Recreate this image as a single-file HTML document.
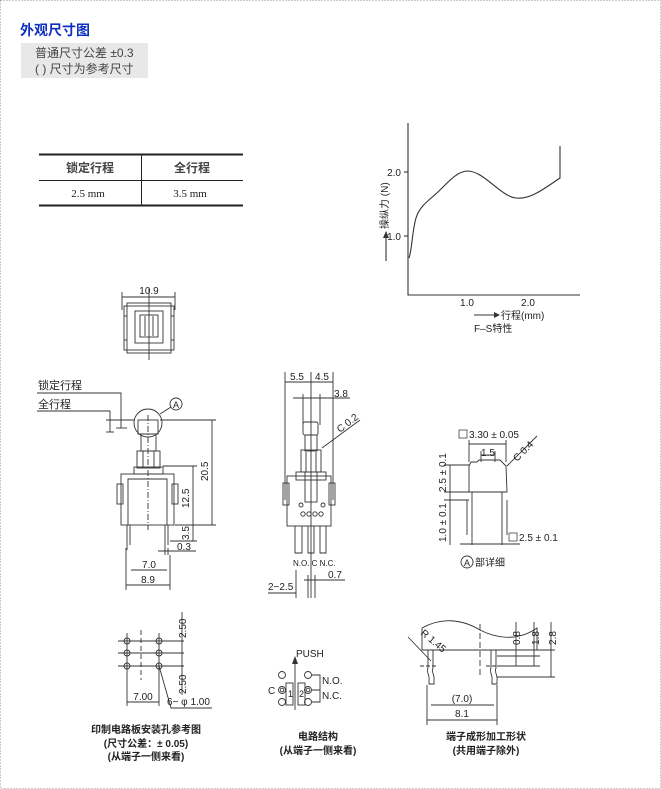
<!DOCTYPE html>
<html><head><meta charset="utf-8"><style>
html,body{margin:0;padding:0;background:#fff}
svg{display:block}
text{font-family:"Liberation Sans","Noto Sans CJK SC",sans-serif;fill:#222}
</style></head><body>
<svg width="661" height="789" viewBox="0 0 661 789" xmlns="http://www.w3.org/2000/svg">
<rect x="0.5" y="0.5" width="660" height="788" fill="#fff" stroke="#999" stroke-dasharray="1,2"/>
<text x="20" y="35" font-size="14" font-weight="bold" style="fill:#1030c0">外观尺寸图</text>
<rect x="21" y="43" width="127" height="35" fill="#e8e8e8"/>
<text x="35" y="57" font-size="12" style="fill:#444">普通尺寸公差 ±0.3</text>
<text x="35" y="73" font-size="12" style="fill:#444">( ) 尺寸为参考尺寸</text>

<g stroke="#222" fill="none">
<line x1="39" y1="154.5" x2="243" y2="154.5" stroke-width="2"/>
<line x1="39" y1="180.5" x2="243" y2="180.5"/>
<line x1="39" y1="205.5" x2="243" y2="205.5" stroke-width="2"/>
<line x1="141.5" y1="154" x2="141.5" y2="206"/>
</g>
<text x="90" y="172" font-size="12" font-weight="bold" text-anchor="middle" style="fill:#444">锁定行程</text>
<text x="192" y="172" font-size="12" font-weight="bold" text-anchor="middle" style="fill:#444">全行程</text>
<text x="88" y="197" font-size="11" text-anchor="middle" style="font-family:'Liberation Serif',serif">2.5 mm</text>
<text x="190" y="197" font-size="11" text-anchor="middle" style="font-family:'Liberation Serif',serif">3.5 mm</text>

<g stroke="#333" fill="none" stroke-width="1.1">
<polyline points="408,123 408,295 580,295"/>
<line x1="404" y1="172" x2="408" y2="172"/><line x1="404" y1="236" x2="408" y2="236"/>
<path d="M409,258 C412,250 412,232 416,218 C420,205 430,200 440,190 C450,180 458,171 468,171 C485,172 500,196 516,198 C530,200 545,188 560,178 L560,146"/>
<line x1="386" y1="261" x2="386" y2="237"/>
<line x1="474" y1="315" x2="495" y2="315"/>
</g>
<polygon points="383,238 389,238 386,231" fill="#333"/>
<polygon points="494,312 494,318 500,315" fill="#333"/>
<text x="401" y="176" font-size="10" text-anchor="end">2.0</text>
<text x="401" y="240" font-size="10" text-anchor="end">1.0</text>
<text x="467" y="306" font-size="10" text-anchor="middle">1.0</text>
<text x="528" y="306" font-size="10" text-anchor="middle">2.0</text>
<text x="501" y="319" font-size="10">行程(mm)</text>
<text x="474" y="332" font-size="10">F–S特性</text>
<text x="0" y="0" font-size="10" transform="translate(388,229) rotate(-90)">操纵力 (N)</text>

<g stroke="#333" fill="none" stroke-width="0.9">
<line x1="122" y1="297" x2="175" y2="297"/>
<line x1="122" y1="292" x2="122" y2="310"/><line x1="175" y1="292" x2="175" y2="310"/>
<rect x="124" y="306" width="50" height="44"/>
<rect x="127" y="303" width="44" height="50"/>
<rect x="135" y="311" width="28" height="32"/>
<rect x="140" y="315" width="18" height="22"/>
<line x1="145" y1="316" x2="145" y2="336"/><line x1="153" y1="316" x2="153" y2="336"/>
<line x1="149" y1="288" x2="149" y2="360"/>
<line x1="124" y1="316" x2="127" y2="316"/><line x1="124" y1="340" x2="127" y2="340"/>
<line x1="171" y1="316" x2="174" y2="316"/><line x1="171" y1="340" x2="174" y2="340"/>
</g>
<text x="149" y="294" font-size="10" text-anchor="middle">10.9</text>

<text x="38" y="389" font-size="11">锁定行程</text>
<text x="38" y="408" font-size="11">全行程</text>
<g stroke="#333" fill="none" stroke-width="0.9">
<polyline points="37,393 121,393 121,428"/>
<polyline points="37,411 110,411 110,432"/>
<line x1="106" y1="420" x2="135" y2="420"/><line x1="106" y1="432" x2="114" y2="432"/>
<line x1="116" y1="428" x2="127" y2="428"/>
<circle cx="148" cy="423" r="14"/>
<circle cx="176" cy="404" r="6"/>
<line x1="160" y1="414" x2="171" y2="407"/>
<rect x="138" y="420" width="20" height="14"/>
<rect x="141" y="434" width="15" height="17"/>
<rect x="137" y="451" width="23" height="17"/>
<line x1="143" y1="451" x2="143" y2="468"/><line x1="154" y1="451" x2="154" y2="468"/>
<rect x="134" y="467" width="29" height="7"/>
<rect x="121" y="474" width="53" height="51"/>
<rect x="117" y="484" width="6" height="20"/><rect x="172" y="484" width="6" height="20"/>
<polyline points="128,525 128,479 167,479 167,525"/>
<line x1="127" y1="525" x2="127" y2="550"/><line x1="130" y1="525" x2="130" y2="545"/>
<line x1="165" y1="525" x2="165" y2="550"/><line x1="168" y1="525" x2="168" y2="545"/>
<line x1="148" y1="415" x2="148" y2="530" stroke-dasharray="6,2,1,2"/>
<line x1="160" y1="420" x2="216" y2="420"/><line x1="163" y1="466" x2="197" y2="466"/>
<line x1="175" y1="525" x2="216" y2="525"/><line x1="170" y1="541" x2="197" y2="541"/>
<line x1="212" y1="420" x2="212" y2="525"/>
<line x1="193" y1="466" x2="193" y2="541"/>
<line x1="158" y1="551" x2="196" y2="551"/>
<line x1="165" y1="548" x2="165" y2="555"/><line x1="168" y1="548" x2="168" y2="555"/>
<line x1="126" y1="548" x2="126" y2="590"/><line x1="170" y1="555" x2="170" y2="590"/>
<line x1="131" y1="570" x2="167" y2="570"/><line x1="126" y1="585" x2="170" y2="585"/>
</g>
<text x="176" y="408" font-size="9" text-anchor="middle">A</text>
<text font-size="10" transform="translate(208,481) rotate(-90)">20.5</text>
<text font-size="10" transform="translate(189,508) rotate(-90)">12.5</text>
<text font-size="10" transform="translate(189,540) rotate(-90)">3.5</text>
<text x="177" y="550" font-size="10">0.3</text>
<text x="149" y="568" font-size="10" text-anchor="middle">7.0</text>
<text x="148" y="583" font-size="10" text-anchor="middle">8.9</text>

<g stroke="#333" fill="none" stroke-width="0.9">
<line x1="285" y1="372" x2="285" y2="500"/><line x1="333" y1="372" x2="333" y2="500"/>
<line x1="311" y1="372" x2="311" y2="598"/>
<line x1="285" y1="382" x2="333" y2="382"/>
<line x1="293" y1="398" x2="350" y2="398"/>
<line x1="303" y1="394" x2="303" y2="425"/><line x1="320" y1="394" x2="320" y2="425"/>
<rect x="303" y="422" width="15" height="13" rx="2"/>
<rect x="305" y="435" width="12" height="16"/>
<rect x="301" y="450" width="20" height="22"/>
<line x1="306" y1="452" x2="306" y2="472"/><line x1="316" y1="452" x2="316" y2="472"/>
<rect x="296" y="472" width="30" height="8"/>
<rect x="287" y="476" width="44" height="50"/>
<rect x="283" y="483" width="6" height="22"/><rect x="329" y="483" width="6" height="22"/>
<rect x="305" y="472" width="12" height="30"/>
<circle cx="303" cy="514" r="2.2"/><circle cx="309" cy="514" r="2.2"/><circle cx="315" cy="514" r="2.2"/><circle cx="321" cy="514" r="2.2"/>
<circle cx="301" cy="505" r="2"/><circle cx="323" cy="505" r="2"/>
<path d="M295,526 L295,553 L302,553 L302,526 M308,526 L308,553 L314,553 L314,526 M320,526 L320,553 L326,553 L326,526"/>
<line x1="322" y1="448" x2="360" y2="420"/>
<line x1="296" y1="570" x2="296" y2="598"/><line x1="308" y1="575" x2="308" y2="598"/><line x1="315" y1="575" x2="315" y2="598"/>
<line x1="304" y1="580" x2="345" y2="580"/>
<line x1="268" y1="593" x2="296" y2="593"/>
</g>
<text x="297" y="380" font-size="10" text-anchor="middle">5.5</text>
<text x="322" y="380" font-size="10" text-anchor="middle">4.5</text>
<text x="334" y="397" font-size="10">3.8</text>
<text font-size="10" transform="translate(340,433) rotate(-38)">C 0.2</text>
<text x="293" y="566" font-size="8">N.O. C  N.C.</text>
<text x="328" y="578" font-size="10">0.7</text>
<text x="268" y="590" font-size="10">2−2.5</text>

<g stroke="#333" fill="none" stroke-width="0.9">
<path d="M469,466 L471,462 L477,462 L479,460 L500,460 L502,462 L506,466 L507,492 L469,492 Z"/>
<line x1="472" y1="492" x2="472" y2="545"/><line x1="502" y1="492" x2="502" y2="545"/>
<line x1="467" y1="500" x2="467" y2="535"/><line x1="507" y1="500" x2="507" y2="535"/>
<line x1="469" y1="440" x2="469" y2="462"/><line x1="506" y1="440" x2="506" y2="462"/>
<line x1="469" y1="444" x2="506" y2="444"/>
<line x1="481" y1="451" x2="481" y2="462"/><line x1="495" y1="451" x2="495" y2="462"/>
<line x1="481" y1="455" x2="495" y2="455"/>
<line x1="507" y1="466" x2="537" y2="436"/>
<line x1="444" y1="465" x2="469" y2="465"/><line x1="444" y1="492" x2="469" y2="492"/>
<line x1="450" y1="465" x2="450" y2="545"/><line x1="444" y1="500" x2="469" y2="500"/>
<line x1="460" y1="544" x2="520" y2="544"/>
<circle cx="467" cy="562" r="6"/>
</g>
<rect x="459" y="430" width="8" height="8" fill="none" stroke="#444" stroke-width="0.8"/>
<text x="469" y="438" font-size="10">3.30 ± 0.05</text>
<text x="488" y="456" font-size="10" text-anchor="middle">1.5</text>
<text font-size="10" transform="translate(517,462) rotate(-45)">C 0.4</text>
<text font-size="10" transform="translate(446,492) rotate(-90)">2.5 ± 0.1</text>
<text font-size="10" transform="translate(446,542) rotate(-90)">1.0 ± 0.1</text>
<rect x="509" y="533" width="8" height="8" fill="none" stroke="#444" stroke-width="0.8"/>
<text x="519" y="541" font-size="10">2.5 ± 0.1</text>
<text x="467" y="566" font-size="9" text-anchor="middle">A</text>
<text x="475" y="566" font-size="10">部详细</text>

<g stroke="#333" fill="none" stroke-width="0.9">
<circle cx="127" cy="641" r="3"/><circle cx="127" cy="653" r="3"/><circle cx="127" cy="666" r="3"/>
<circle cx="159" cy="641" r="3"/><circle cx="159" cy="653" r="3"/><circle cx="159" cy="666" r="3"/>
<line x1="118" y1="641" x2="184" y2="641"/><line x1="118" y1="653" x2="184" y2="653"/><line x1="118" y1="666" x2="184" y2="666"/>
<line x1="127" y1="633" x2="127" y2="706"/><line x1="159" y1="633" x2="159" y2="706"/>
<line x1="141" y1="630" x2="141" y2="680" stroke-dasharray="5,3"/>
<line x1="182" y1="612" x2="182" y2="695"/>
<line x1="127" y1="702" x2="159" y2="702"/>
<polyline points="159,666 171,708 212,708"/>
</g>
<text font-size="10" transform="translate(186,638) rotate(-90)">2.50</text>
<text font-size="10" transform="translate(186,694) rotate(-90)">2.50</text>
<text x="143" y="700" font-size="10" text-anchor="middle">7.00</text>
<text x="167" y="705" font-size="10">6− φ 1.00</text>
<text x="146" y="733" font-size="10" font-weight="bold" text-anchor="middle">印制电路板安装孔参考图</text>
<text x="146" y="747" font-size="10" font-weight="bold" text-anchor="middle">(尺寸公差：± 0.05)</text>
<text x="146" y="760" font-size="10" font-weight="bold" text-anchor="middle">(从端子一侧来看)</text>

<text x="296" y="657" font-size="10">PUSH</text>
<g stroke="#333" fill="none" stroke-width="0.9">
<line x1="295" y1="663" x2="295" y2="710"/>
<circle cx="282" cy="675" r="3.5"/><circle cx="282" cy="690" r="3.5"/><circle cx="282" cy="690" r="1.8"/><circle cx="282" cy="702" r="3.5"/>
<circle cx="308" cy="675" r="3.5"/><circle cx="308" cy="690" r="3.5"/><circle cx="308" cy="690" r="1.8"/><circle cx="308" cy="702" r="3.5"/>
<rect x="286" y="683" width="7" height="22"/><rect x="298" y="683" width="7" height="22"/>
<polyline points="312,675 320,675 320,690"/>
<polyline points="312,690 320,690 320,702 312,702"/>
</g>
<polygon points="292,664 298,664 295,656" fill="#333"/>
<text x="268" y="694" font-size="10">C</text>
<text x="288" y="697" font-size="9">1</text>
<text x="299" y="697" font-size="9">2</text>
<text x="322" y="684" font-size="10">N.O.</text>
<text x="322" y="699" font-size="10">N.C.</text>
<text x="318" y="740" font-size="10" font-weight="bold" text-anchor="middle">电路结构</text>
<text x="318" y="754" font-size="10" font-weight="bold" text-anchor="middle">(从端子一侧来看)</text>

<g stroke="#333" fill="none" stroke-width="0.9">
<path d="M422,650 L422,628 C440,618 460,618 480,630 C500,640 520,640 537,628 L537,650 Z"/>
<path d="M428,650 L428,668 C426,672 430,676 429,680 L429,684 L434,684 L434,680 C435,676 431,672 433,668 L433,650"/>
<path d="M491,650 L491,668 C489,672 493,676 492,680 L492,684 L497,684 L497,680 C498,676 494,672 496,668 L496,650"/>
<line x1="480" y1="624" x2="480" y2="675" stroke-dasharray="6,3"/>
<line x1="420" y1="666" x2="438" y2="666" stroke-dasharray="4,2"/><line x1="486" y1="666" x2="505" y2="666" stroke-dasharray="4,2"/>
<line x1="537" y1="650" x2="555" y2="650"/>
<line x1="497" y1="656" x2="540" y2="656"/><line x1="497" y1="666" x2="540" y2="666"/><line x1="497" y1="677" x2="555" y2="677"/>
<line x1="516" y1="622" x2="516" y2="666"/><line x1="534" y1="622" x2="534" y2="666"/><line x1="551" y1="622" x2="551" y2="677"/>
<line x1="427" y1="685" x2="427" y2="725"/><line x1="497" y1="685" x2="497" y2="725"/>
<line x1="431" y1="705" x2="494" y2="705"/><line x1="427" y1="720" x2="497" y2="720"/>
<line x1="408" y1="637" x2="431" y2="661"/>
</g>
<text font-size="10" transform="translate(420,634) rotate(40)">R 1.45</text>
<text font-size="10" transform="translate(520,645) rotate(-90)">0.8</text>
<text font-size="10" transform="translate(539,645) rotate(-90)">1.8</text>
<text font-size="10" transform="translate(556,645) rotate(-90)">2.8</text>
<text x="462" y="702" font-size="10" text-anchor="middle">(7.0)</text>
<text x="462" y="717" font-size="10" text-anchor="middle">8.1</text>
<text x="486" y="740" font-size="10" font-weight="bold" text-anchor="middle">端子成形加工形状</text>
<text x="486" y="754" font-size="10" font-weight="bold" text-anchor="middle">(共用端子除外)</text>
</svg>
</body></html>
